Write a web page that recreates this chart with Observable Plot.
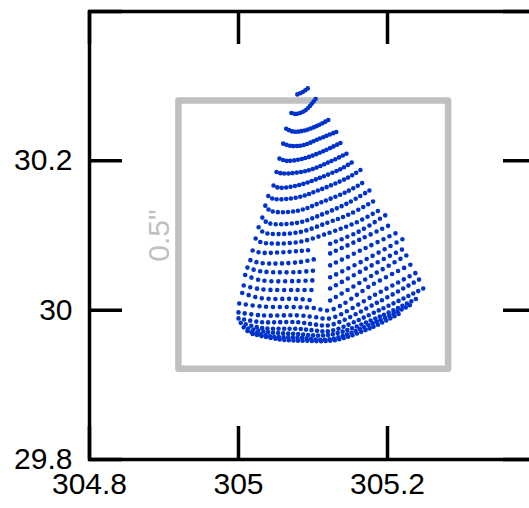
<!DOCTYPE html>
<html><head><meta charset="utf-8">
<script src="https://cdn.jsdelivr.net/npm/d3@7"></script>
<script src="https://cdn.jsdelivr.net/npm/@observablehq/plot@0.6"></script>
<style>html,body{margin:0;padding:0;background:#fff;overflow:hidden}
#chart svg{max-width:none !important;height:508px !important;width:540px !important}</style>
</head><body><div id="chart"></div>
<script>
const xTicks = [304.8, 305, 305.2, 305.4];
const yTicks = [29.8, 30, 30.2, 30.4];
const xLabels = [304.8, 305, 305.2];
const yLabels = [29.8, 30, 30.2];
const boxX = [304.92, 305.282];
const boxY = [29.921, 30.280];
const boxLabel = [{x: 304.894, y: 30.100, text: '0.5"'}];
// rows of the dot pattern, anchor points; null = gap
const rows = [
 [[305.079,30.289],[305.086,30.292],[305.093,30.297]],
 [[305.071,30.264],[305.078,30.263],[305.089,30.267],[305.098,30.276],[305.105,30.285]],
 [[305.064,30.243],[305.074,30.239],[305.090,30.241],[305.106,30.247],[305.121,30.255]],
 [[305.060,30.223],[305.070,30.220],[305.087,30.221],[305.107,30.229],[305.132,30.239]],
 [[305.055,30.203],[305.064,30.200],[305.087,30.203],[305.114,30.213],[305.137,30.224]],
 [[305.051,30.185],[305.060,30.183],[305.093,30.187],[305.123,30.199],[305.148,30.211]],
 [[305.047,30.167],[305.054,30.164],[305.079,30.167],[305.106,30.176],[305.137,30.189],[305.154,30.199]],
 [[305.040,30.153],[305.047,30.149],[305.079,30.151],[305.106,30.160],[305.146,30.177],[305.164,30.188]],
 [[305.036,30.140],[305.043,30.133],[305.079,30.133],[305.110,30.144],[305.146,30.159],[305.169,30.172]],
 [[305.032,30.124],[305.039,30.117],[305.079,30.117],[305.114,30.129],[305.146,30.143],[305.177,30.161]],
 [[305.027,30.111],[305.034,30.104],[305.079,30.104],[305.119,30.117],[305.150,30.129],[305.185,30.148]],
 [[305.023,30.096],[305.030,30.091],[305.079,30.091],[305.123,30.104],[305.157,30.117],[305.191,30.135]],
 [[305.019,30.080],[305.030,30.077],[305.079,30.079],[305.101,30.081],null,[305.123,30.089],[305.161,30.105],[305.197,30.127]],
 [[305.016,30.067],[305.030,30.063],[305.079,30.064],[305.101,30.068],null,[305.123,30.076],[305.166,30.096],[305.207,30.116]],
 [[305.012,30.057],[305.030,30.052],[305.079,30.051],[305.101,30.053],null,[305.123,30.060],[305.170,30.083],[305.213,30.104]],
 [[305.009,30.047],[305.030,30.040],[305.079,30.039],[305.101,30.040],null,[305.123,30.044],[305.173,30.069],[305.220,30.095]],
 [[305.007,30.033],[305.030,30.028],[305.079,30.027],[305.101,30.027],null,[305.123,30.029],[305.177,30.059],[305.225,30.084]],
 [[305.005,30.023],[305.030,30.016],[305.079,30.015],[305.101,30.013],null,[305.123,30.013],[305.180,30.047],[305.230,30.076]],
 [[305.001,30.009],[305.030,30.005],[305.079,30.004],[305.101,30.003],[305.123,30.000],[305.181,30.035],[305.235,30.063]],
 [[305.000,29.997],[305.030,29.993],[305.079,29.993],[305.101,29.991],[305.123,29.989],[305.184,30.021],[305.240,30.051]],
 [[305.000,29.989],[305.030,29.984],[305.079,29.984],[305.101,29.981],[305.123,29.980],[305.188,30.011],[305.246,30.043]],
 [[305.003,29.983],[305.032,29.976],[305.079,29.975],[305.101,29.973],[305.123,29.972],[305.191,30.001],[305.248,30.029]],
 [[305.007,29.977],[305.036,29.971],[305.079,29.968],[305.123,29.967],[305.191,29.992],[305.242,30.017]],
 [[305.012,29.972],[305.043,29.965],[305.083,29.963],[305.123,29.961],[305.184,29.984],[305.231,30.007]],
 [[305.019,29.968],[305.054,29.961],[305.090,29.959],[305.130,29.960],[305.177,29.976],[305.217,29.996]]
];

const W = 540, H = 508, mL = 89, mR = 4, mT = 11, mB = 49;
const innerW = W - mL - mR, innerH = H - mT - mB, tickLen = 33;
const dotColor = "#0033cc", gray = "#c0c0c0";
const dotGap = [3,3,3.2,3.5,3.8,4.1,4.4,4.7,5,5.3,5.6,5.9,6.2,6.4,6.6,6.8,6.8,6.8,6.8,6.5,6,5.5,5,4.6,4.6];

const rowMarks = rows.map((r, i) => Plot.line(
  r.map(p => p ? {x: p[0], y: p[1]} : {x: NaN, y: NaN}),
  {x: "x", y: "y", curve: "catmull-rom", stroke: dotColor, strokeWidth: 4.6,
   strokeLinecap: "round", strokeDasharray: `0 ${dotGap[i]}`}
));

const chart = Plot.plot({
  width: W, height: H,
  marginLeft: mL, marginRight: mR, marginTop: mT, marginBottom: mB,
  style: {fontFamily: "'Liberation Sans', Arial, sans-serif", fontSize: "30px", background: "#fff", overflow: "visible", maxWidth: "none"},
  x: {domain: [304.8, 305.4], axis: null},
  y: {domain: [29.8, 30.4], axis: null},
  marks: [
    Plot.rect([{x1: boxX[0], x2: boxX[1], y1: boxY[0], y2: boxY[1]}],
      {x1: "x1", x2: "x2", y1: "y1", y2: "y2", fill: "none", stroke: gray, strokeWidth: 6.5, strokeLinejoin: "round"}),
    Plot.text(boxLabel, {x: "x", y: "y", text: "text", rotate: -90, fill: gray, fontSize: 30,
      textAnchor: "middle", lineAnchor: "middle"}),
    ...rowMarks,
    Plot.ruleX(xTicks, {x: d => d, insetTop: innerH - tickLen, stroke: "black", strokeWidth: 3.5}),
    Plot.ruleX(xTicks, {x: d => d, insetBottom: innerH - tickLen, stroke: "black", strokeWidth: 3.5}),
    Plot.ruleY(yTicks, {y: d => d, insetRight: innerW - tickLen, stroke: "black", strokeWidth: 3.5}),
    Plot.ruleY(yTicks, {y: d => d, insetLeft: innerW - tickLen, stroke: "black", strokeWidth: 3.5}),
    Plot.frame({stroke: "black", strokeWidth: 3.5}),
    Plot.axisX({ticks: xLabels, tickSize: 0, tickPadding: 13, fontSize: 30, label: null,
      tickFormat: d => String(d), anchor: "bottom"}),
    Plot.axisY({ticks: yLabels, tickSize: 0, tickPadding: 17, fontSize: 30, label: null,
      tickFormat: d => String(d), anchor: "left"})
  ]
});
document.getElementById("chart").appendChild(chart);
</script>
</body></html>
